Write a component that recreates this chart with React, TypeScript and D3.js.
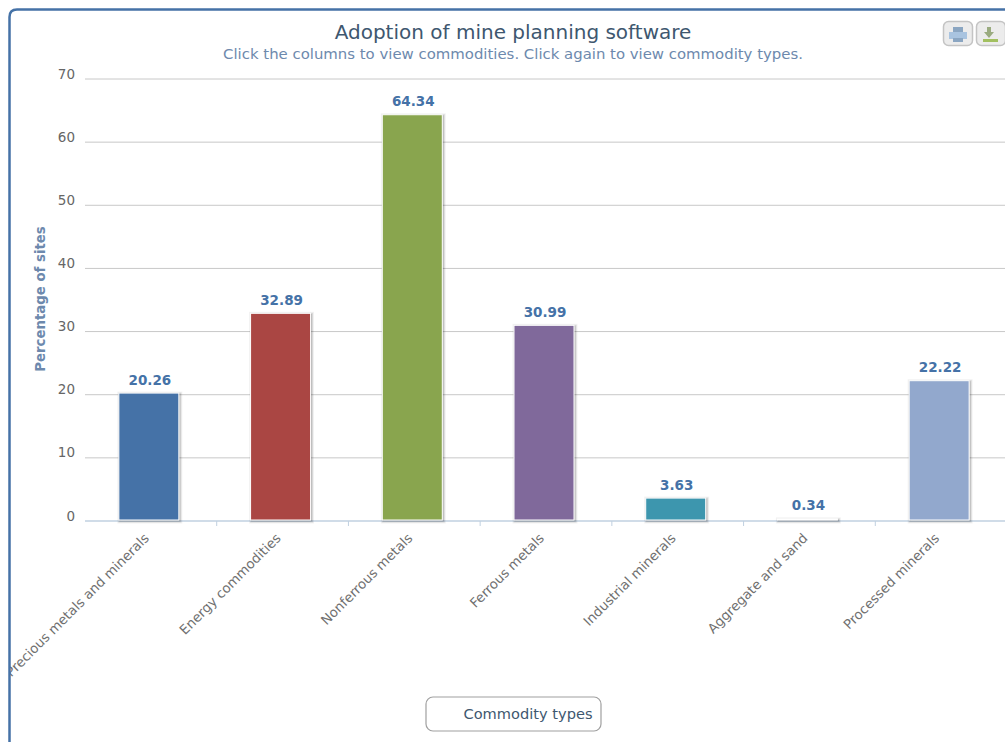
import React from "react";
import * as d3 from "d3";

const categories = [
  "Precious metals and minerals",
  "Energy commodities",
  "Nonferrous metals",
  "Ferrous metals",
  "Industrial minerals",
  "Aggregate and sand",
  "Processed minerals",
];
const values = [20.26, 32.89, 64.34, 30.99, 3.63, 0.34, 22.22];
const barColors = ["#4572a7", "#aa4643", "#89a54e", "#80699b", "#3d96ae", "#ffffff", "#92a8cd"];
const yTicks = [0, 10, 20, 30, 40, 50, 60, 70];

const FONT = "'DejaVu Sans', Verdana, sans-serif";
const W = 1005;
const H = 742;
const plot = { left: 85, right: 1007, top: 79, bottom: 521 };

export default function App() {
  const x = d3.scaleBand<string>().domain(categories).range([plot.left, plot.right]);
  const y = d3.scaleLinear().domain([0, 70]).range([plot.bottom, plot.top]);
  const barWidth = 60;
  const tickXs = d3.range(1, categories.length).map((i) => plot.left + i * x.step());

  return (
    <svg
      width={W}
      height={H}
      style={{ position: "absolute", left: 0, top: 0, display: "block", fontFamily: FONT }}
    >
      <defs>
        <clipPath id="frame-clip">
          <rect x={9} y={9} width={W} height={H} />
        </clipPath>
      </defs>
      <rect width={W} height={H} fill="#fff" />

      {/* gridlines */}
      {yTicks.slice(1).map((t) => (
        <line key={t} x1={plot.left} x2={W} y1={y(t)} y2={y(t)} stroke="#c8c8c8" strokeWidth={1} />
      ))}

      {/* value axis */}
      {yTicks.map((t) => (
        <text key={t} x={75} y={y(t) - 0.5} textAnchor="end" fontSize={13.5} fill="#666">
          {t}
        </text>
      ))}
      <text
        transform={`translate(44.5,${(y(0) + y(70)) / 2 - 1}) rotate(-90)`}
        textAnchor="middle"
        fontSize={13.3}
        fontWeight="bold"
        fill="#6d89ad"
      >
        Percentage of sites
      </text>

      {/* category axis */}
      <line x1={plot.left} x2={W} y1={plot.bottom} y2={plot.bottom} stroke="#c0d0e0" strokeWidth={1.5} />
      {tickXs.map((tx) => (
        <line key={tx} x1={tx} x2={tx} y1={plot.bottom} y2={plot.bottom + 5} stroke="#c0d0e0" strokeWidth={1} />
      ))}

      {/* columns */}
      {categories.map((c, i) => {
        const bx = x(c)! + (x.step() - barWidth) / 2 - 2;
        const by = y(values[i]);
        const bh = plot.bottom - 1 - by;
        return (
          <g key={c}>
            {[
              [5, 0.05],
              [3, 0.1],
              [1, 0.15],
            ].map(([sw, op]) => (
              <rect
                key={sw}
                x={bx + 1}
                y={by + 1}
                width={barWidth}
                height={bh}
                fill="none"
                stroke="#000"
                strokeWidth={sw}
                strokeOpacity={op}
              />
            ))}
            <rect x={bx} y={by} width={barWidth} height={bh} fill={barColors[i]} stroke="#fff" strokeWidth={1} />
            <text
              x={bx + barWidth / 2 + 1}
              y={by - 8.5}
              textAnchor="middle"
              fontSize={13.5}
              fontWeight="bold"
              fill="#4572a7"
            >
              {values[i].toFixed(2)}
            </text>
          </g>
        );
      })}

      {/* rotated category labels */}
      <g clipPath="url(#frame-clip)">
        {categories.map((c) => {
          const cx = x(c)! + x.step() / 2;
          return (
            <text
              key={c}
              transform={`translate(${cx - 1},${plot.bottom + 18}) rotate(-45)`}
              textAnchor="end"
              fontSize={13.3}
              fill="#707070"
            >
              {c}
            </text>
          );
        })}
      </g>

      {/* chart frame */}
      <path
        d={`M${W + 5},9.5 H17 Q9.5,9.5 9.5,17 V${H + 5}`}
        fill="none"
        stroke="#4572a7"
        strokeWidth={2.5}
      />

      {/* heading */}
      <text x={513} y={39} textAnchor="middle" fontSize={20} fill="#3e576f">
        Adoption of mine planning software
      </text>
      <text x={513} y={59} textAnchor="middle" fontSize={14.9} fill="#6d89ad">
        Click the columns to view commodities. Click again to view commodity types.
      </text>

      {/* print button */}
      <rect x={943.5} y={21.5} width={29} height={24} rx={5} fill="#ececec" stroke="#c4c4c4" strokeWidth={1.5} />
      <rect x={953} y={27} width={10} height={5} fill="#8ba6c2" />
      <rect x={949} y={32} width={18} height={7} fill="#a9c4e0" />
      <rect x={953} y={38} width={10} height={4} fill="#8ba6c2" />
      {/* download button */}
      <rect x={976.5} y={21.5} width={29} height={24} rx={5} fill="#ececec" stroke="#c4c4c4" strokeWidth={1.5} />
      <path d="M987,27 h4 v5 h3 l-5,6 l-5,-6 h3 z" fill="#9aab80" />
      <rect x={983} y={39} width={15} height={3} fill="#a2c060" />

      {/* legend */}
      <rect x={426} y={697} width={175} height={34} rx={7} fill="#fff" stroke="#a0a0a0" strokeWidth={1.2} />
      <text x={463.5} y={719} fontSize={14.6} fill="#3e576f">
        Commodity types
      </text>
    </svg>
  );
}
